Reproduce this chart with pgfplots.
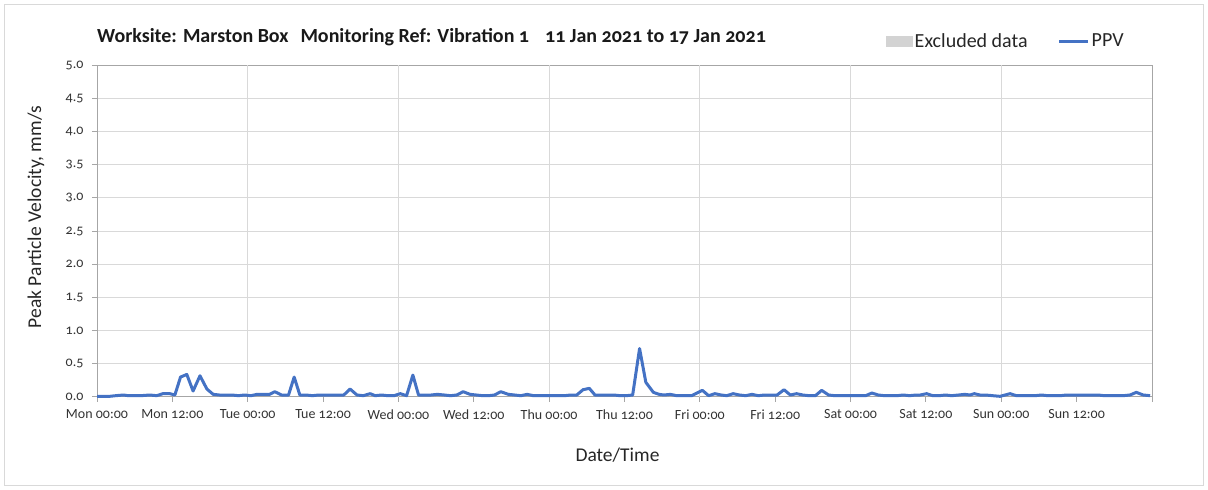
\documentclass[border=0pt]{standalone}
\usepackage{fontspec}
\setmainfont{Carlito}[Numbers=OldStyle]
\usepackage{pgfplots}
\usepackage{pgfplotstable}
\pgfplotsset{compat=1.18}

\definecolor{ppvblue}{HTML}{4472C4}
\definecolor{gridgrey}{HTML}{D9D9D9}
\definecolor{axisgrey}{HTML}{A6A6A6}
\definecolor{exclgrey}{HTML}{D3D3D3}

% hours since Mon 00:00, PPV in mm/s
\pgfplotstableread{
h ppv
0 0.01
1 0.01
2 0.01
3 0.02
4.2 0.03
5 0.02
6 0.02
7 0.02
8.4 0.03
9.5 0.02
10.5 0.05
11.6 0.05
12.4 0.03
13.3 0.30
14.3 0.34
15.3 0.09
16.4 0.32
17.5 0.12
18.5 0.04
19.5 0.03
20.5 0.03
21.5 0.03
22.5 0.02
23.5 0.03
24.5 0.02
25.5 0.04
26.5 0.04
27.5 0.04
28.3 0.08
29.4 0.03
30.5 0.03
31.4 0.30
32.3 0.03
33.3 0.03
34.3 0.02
35.3 0.03
36.3 0.03
37.3 0.03
38.3 0.03
39.3 0.03
40.3 0.12
41.4 0.03
42.4 0.02
43.5 0.05
44.3 0.02
45.3 0.03
46.3 0.02
47.3 0.02
48.3 0.05
49.3 0.02
50.3 0.33
51.2 0.03
52.2 0.03
53.2 0.03
54.2 0.04
55.3 0.03
56.3 0.02
57.3 0.03
58.3 0.08
59.4 0.04
60.4 0.03
61.4 0.02
62.4 0.02
63.3 0.03
64.3 0.08
65.5 0.04
66.5 0.03
67.5 0.02
68.5 0.04
69.5 0.02
70.5 0.02
71.5 0.02
72.5 0.02
73.5 0.02
74.5 0.02
75.4 0.03
76.4 0.03
77.4 0.11
78.4 0.13
79.3 0.03
80.3 0.03
81.3 0.03
82.3 0.03
83.3 0.02
84.3 0.02
85.3 0.03
86.4 0.73
87.4 0.22
88.6 0.07
89.5 0.04
90.3 0.03
91.3 0.04
92.3 0.02
93.3 0.02
94.7 0.02
96.4 0.10
97.4 0.02
98.4 0.05
99.4 0.03
100.3 0.02
101.3 0.05
102.3 0.03
103.3 0.02
104.3 0.04
105.3 0.02
106.3 0.03
107.2 0.03
108.3 0.03
109.4 0.11
110.4 0.03
111.4 0.05
112.4 0.03
113.4 0.02
114.4 0.02
115.4 0.10
116.5 0.03
117.5 0.02
118.5 0.02
119.5 0.02
120.5 0.02
121.5 0.02
122.4 0.02
123.4 0.06
124.4 0.03
125.4 0.02
126.4 0.02
127.4 0.02
128.4 0.03
129.4 0.02
130.4 0.03
131.1 0.03
132.1 0.05
133.1 0.02
134.1 0.02
135.1 0.03
136.1 0.02
137.2 0.03
138.2 0.04
139.0 0.03
139.7 0.05
140.6 0.03
141.5 0.03
142.6 0.02
143.8 0.01
145.4 0.05
146.4 0.02
147.4 0.02
148.4 0.02
149.4 0.02
150.4 0.03
151.4 0.02
152.4 0.02
153.4 0.02
154.4 0.03
155.4 0.03
156.4 0.03
157.4 0.03
158.4 0.03
159.4 0.03
160.4 0.02
161.4 0.02
162.4 0.02
163.4 0.02
164.5 0.03
165.5 0.07
166.6 0.03
167.7 0.02
}\ppvdata

\begin{document}
\begin{tikzpicture}
\path[use as bounding box] (0pt,0pt) rectangle (1208pt,490pt);
\draw[gridgrey, line width=1pt] (4.5pt,4.5pt) rectangle (1203.5pt,485.5pt);
\begin{axis}[
    at={(97pt,93pt)}, anchor=south west,
    scale only axis, width=1055pt, height=332pt,
    xmin=0, xmax=168, ymin=0, ymax=5,
    xtick pos=bottom, ytick pos=left,
    xtick={0,12,...,168},
    xticklabels={Mon 00:00, Mon 12:00, Tue 00:00, Tue 12:00, Wed 00:00, Wed 12:00,
        Thu 00:00, Thu 12:00, Fri 00:00, Fri 12:00, Sat 00:00, Sat 12:00,
        Sun 00:00, Sun 12:00, {}},
    extra x ticks={24,48,72,96,120,144},
    extra x tick labels={,,,,,},
    extra x tick style={grid=major, major tick length=0pt},
    ytick={0,0.5,1,1.5,2,2.5,3,3.5,4,4.5,5},
    ymajorgrids,
    grid style={gridgrey, line width=1pt},
    axis line style={axisgrey, line width=1pt},
    tick style={axisgrey, line width=1pt},
    tick align=outside, major tick length=5pt,
    /pgf/number format/assume math mode=true,
    yticklabel style={/pgf/number format/.cd, fixed, fixed zerofill, precision=1,
        /tikz/.cd, xshift=-5pt},
    ticklabel style={font=\fontsize{14}{16}\selectfont, text=black!80},
    xticklabel style={yshift=-4pt},
    xlabel={Date/Time},
    ylabel={Peak Particle Velocity, mm/s},
    label style={font=\fontsize{19.5}{22}\selectfont, text=black!85},
    xlabel style={at={(axis description cs:0.5,0)}, anchor=center, yshift=-58pt, xshift=-7pt},
    ylabel style={at={(axis description cs:-0.058,0.542)}, anchor=center},
    legend style={at={(0.748,1.072)}, anchor=west, draw=none, fill=none,
        inner sep=0pt, font=\fontsize{20}{22}\selectfont, text=black!85,
        nodes={inner sep=2pt},
        /tikz/every even column/.append style={column sep=28pt}},
    legend columns=2,
    legend cell align=left,
    clip=false,
]
\addlegendimage{legend image code/.code={\fill[exclgrey] (0pt,-5pt) rectangle (26pt,5pt);}}
\addlegendentry{Excluded data}
\addplot[ppvblue, line width=3pt, line join=round,
    legend image code/.code={\draw[ppvblue, line width=3pt] (0pt,0pt) -- (29pt,0pt);}]
    table[x=h, y=ppv] {\ppvdata};
\addlegendentry{PPV}
\node[anchor=west, inner sep=0pt, font=\bfseries\fontsize{20}{22}\selectfont, text=black!90]
    at (rel axis cs:0,1.084)
    {Worksite: Marston Box\hspace*{12pt}Monitoring Ref: Vibration 1\hspace*{16pt}11 Jan 2021 to 17 Jan 2021};
\end{axis}
\end{tikzpicture}
\end{document}
